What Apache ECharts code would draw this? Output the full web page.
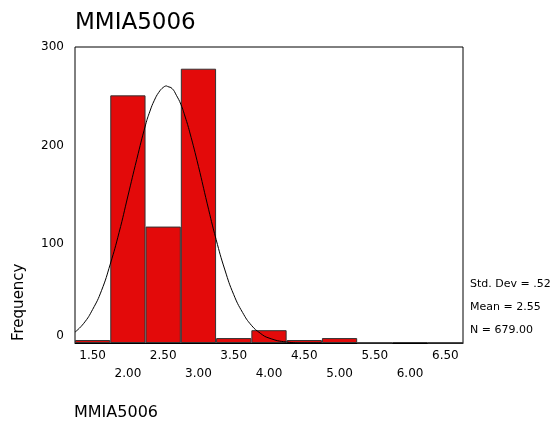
<!DOCTYPE html>
<html>
<head>
<meta charset="utf-8">
<script src="https://cdn.jsdelivr.net/npm/echarts@6/dist/echarts.min.js"></script>
<style>
  html, body { margin: 0; padding: 0; background: #fff; }
  #chart { width: 559px; height: 423px; }
</style>
</head>
<body>
<div id="chart"></div>
<script>
// bin centres and counts
const bins = ['1.50', '2.00', '2.50', '3.00', '3.50', '4.00', '4.50', '5.00', '5.50', '6.00', '6.50']
const counts = [3, 251, 118, 278, 5, 13, 3, 5, 0, 1, 0]
// normal curve
const curveX = [1.25, 1.375, 1.5, 1.625, 1.75, 1.875, 2.0, 2.125, 2.25, 2.3125, 2.375, 2.4375, 2.5, 2.55, 2.5625, 2.625, 2.6875, 2.75, 2.8125, 2.875, 3.0, 3.125, 3.25, 3.375, 3.5, 3.625, 3.75, 3.875, 4.0, 4.25, 4.5, 4.75]
const curveY = [11, 20, 34, 53, 80, 112, 149, 186, 221, 235, 246, 254, 259, 260.5, 260, 258, 251, 242, 229, 214, 179, 141, 105, 74, 49, 31, 18, 10, 5, 1, 0, 0]
const stats = ['Std. Dev = .52', 'Mean = 2.55', 'N = 679.00']

const font = 'DejaVu Sans, sans-serif'
const myChart = echarts.init(document.getElementById('chart'))
const option = {
  animation: false,
  textStyle: { fontFamily: font, color: '#000' },
  title: {
    text: 'MMIA5006',
    left: 70,
    top: 7,
    textStyle: { fontFamily: font, fontSize: 23, fontWeight: 'normal', color: '#000' }
  },
  grid: {
    left: 75,
    top: 47,
    right: 96,
    bottom: 80,
    show: true,
    borderColor: '#000',
    borderWidth: 1
  },
  xAxis: [
    {
      type: 'category',
      data: bins,
      boundaryGap: true,
      axisTick: { show: false },
      axisLine: { lineStyle: { color: '#000' } },
      axisLabel: {
        color: '#000',
        fontSize: 12,
        fontFamily: font,
        margin: 4,
        lineHeight: 18,
        interval: 0,
        // stagger the labels on two rows
        formatter: (v, i) => (i % 2 === 1 ? '\n' + v : v)
      }
    },
    {
      type: 'value',
      min: 1.25,
      max: 6.75,
      show: false
    }
  ],
  yAxis: {
    type: 'value',
    min: 0,
    max: 300,
    interval: 100,
    axisTick: { show: false },
    axisLine: { show: false },
    splitLine: { show: false },
    axisLabel: {
      color: '#000',
      fontSize: 12,
      fontFamily: font,
      margin: 11,
      // the 0 label sits a bit above the baseline
      formatter: v => (v === 0 ? '{z|0}' : String(v)),
      rich: { z: { fontSize: 12, fontFamily: font, color: '#000', padding: [0, 0, 14, 0] } }
    }
  },
  graphic: [
    {
      type: 'text',
      x: 12,
      y: 341,
      rotation: Math.PI / 2,
      style: { text: 'Frequency', font: '15px ' + font, fill: '#000' }
    },
    {
      type: 'text',
      x: 74,
      y: 405,
      style: { text: 'MMIA5006', font: '16px ' + font, fill: '#000' }
    },
    ...stats.map((s, i) => ({
      type: 'text',
      x: 470,
      y: 279 + i * 23,
      style: { text: s, font: '11px ' + font, fill: '#000' }
    }))
  ],
  series: [
    {
      type: 'bar',
      xAxisIndex: 0,
      data: counts,
      barCategoryGap: 0,
      itemStyle: { color: '#e30a0a', borderColor: '#333', borderWidth: 1 }
    },
    {
      type: 'line',
      xAxisIndex: 1,
      data: curveX.map((x, i) => [x, curveY[i]]),
      smooth: true,
      symbol: 'none',
      lineStyle: { color: '#000', width: 1 },
      z: 5
    }
  ]
}
myChart.setOption(option)
</script>
</body>
</html>
